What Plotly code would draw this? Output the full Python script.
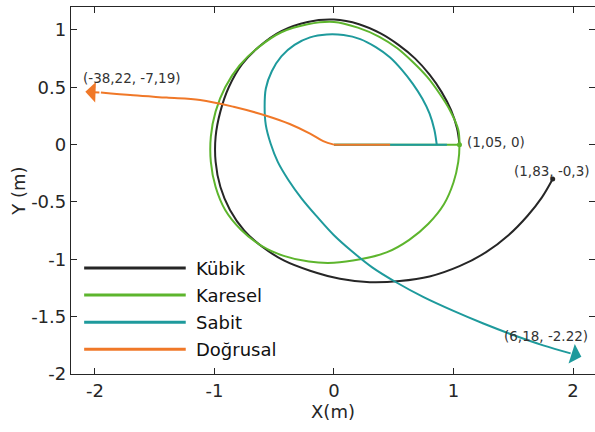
import plotly.graph_objects as go

# ---- data ----
series_names = ["Kübik", "Karesel", "Sabit", "Doğrusal"]
series_colors = ["#262626", "#5db52d", "#1e9a9c", "#f07828"]

kubik_x = [1.05, 1.03, 0.98, 0.90, 0.80, 0.68, 0.54, 0.39, 0.21, 0.00, -0.22, -0.44, -0.62, -0.77, -0.88,
           -0.95, -0.99, -0.99, -0.95, -0.87, -0.75, -0.60, -0.42, -0.20, 0.05, 0.30, 0.55, 0.80, 1.05,
           1.27, 1.46, 1.62, 1.74, 1.83]
kubik_y = [0.00, 0.14, 0.30, 0.46, 0.61, 0.75, 0.87, 0.97, 1.05, 1.09, 1.07, 0.99, 0.86, 0.70, 0.50,
           0.29, 0.07, -0.15, -0.37, -0.57, -0.75, -0.89, -1.01, -1.10, -1.17, -1.20, -1.19, -1.15, -1.06,
           -0.94, -0.79, -0.62, -0.46, -0.30]

karesel_x = [0.00, 1.05, None, 1.05, 1.04, 0.97, 0.88, 0.78, 0.66, 0.53, 0.38, 0.20, 0.00, -0.22, -0.44, -0.63,
             -0.79, -0.91, -0.99, -1.03, -1.03, -0.99, -0.91, -0.78, -0.61, -0.42, -0.21, 0.00, 0.22, 0.44,
             0.63, 0.79, 0.92, 1.00, 1.04, 1.05]
karesel_y = [0.00, 0.00, None, 0.00, 0.13, 0.30, 0.45, 0.59, 0.72, 0.84, 0.94, 1.02, 1.07, 1.05, 0.98, 0.85,
             0.69, 0.50, 0.29, 0.07, -0.15, -0.37, -0.57, -0.74, -0.88, -0.97, -1.02, -1.03, -1.00, -0.94,
             -0.83, -0.69, -0.52, -0.33, -0.15, 0.00]

sabit_x = [0.00, 0.945, None, 0.86, 0.84, 0.80, 0.74, 0.66, 0.57, 0.47, 0.35, 0.22, 0.08, -0.06, -0.20, -0.33,
           -0.44, -0.52, -0.57, -0.58, -0.57, -0.53, -0.47, -0.38, -0.27, -0.14, 0.00, 0.15, 0.32, 0.52,
           0.75, 1.00, 1.25, 1.50, 1.75, 1.98]
sabit_y = [0.00, 0.00, None, 0.00, 0.13, 0.27, 0.40, 0.53, 0.65, 0.76, 0.85, 0.92, 0.955, 0.96, 0.935, 0.87,
           0.77, 0.64, 0.49, 0.33, 0.17, 0.01, -0.15, -0.31, -0.47, -0.63, -0.79, -0.93, -1.07, -1.20,
           -1.33, -1.45, -1.56, -1.66, -1.75, -1.82]

dogrusal_x = [0.47, 0.00, None, 0.00, -0.09, -0.20, -0.37, -0.56, -0.84, -1.12, -1.40, -1.68, -1.95]
dogrusal_y = [0.00, 0.00, None, 0.00, 0.03, 0.096, 0.18, 0.25, 0.33, 0.39, 0.41, 0.43, 0.455]

# arrow tips and endpoint labels
sabit_tip = (2.07, -1.85)
dogrusal_tip = (-2.08, 0.46)
kubik_end = (1.83, -0.30)
karesel_start = (1.05, 0.0)
label_texts = ["(-38,22, -7,19)", "(1,05, 0)", "(1,83, -0,3)", "(6,18, -2.22)"]
label_x = [-2.115, 1.095, 1.49, 1.41]
label_y = [0.58, 0.02, -0.23, -1.67]

xs = [kubik_x, karesel_x, sabit_x, dogrusal_x]
ys = [kubik_y, karesel_y, sabit_y, dogrusal_y]

FONT = "DejaVu Sans"
TXT = "#262626"

fig = go.Figure()
for name, col, x, y in zip(series_names, series_colors, xs, ys):
    fig.add_trace(go.Scatter(x=x, y=y, mode="lines", name=name,
                             line=dict(color=col, width=2, shape="spline", smoothing=1.0),
                             connectgaps=False, showlegend=False, hoverinfo="skip"))

# endpoint markers
fig.add_trace(go.Scatter(x=[kubik_end[0]], y=[kubik_end[1]], mode="markers",
                         marker=dict(color=series_colors[0], size=5), showlegend=False))
fig.add_trace(go.Scatter(x=[karesel_start[0]], y=[karesel_start[1]], mode="markers",
                         marker=dict(color=series_colors[1], size=5), showlegend=False))

annotations = []
# arrowheads
for tip, tail, col in [(sabit_tip, (sabit_x[-1], sabit_y[-1]), series_colors[2]),
                       (dogrusal_tip, (dogrusal_x[-1], dogrusal_y[-1]), series_colors[3])]:
    annotations.append(dict(x=tip[0], y=tip[1], ax=tail[0], ay=tail[1], xref="x", yref="y",
                            axref="x", ayref="y", text="", showarrow=True, arrowhead=1,
                            arrowsize=1.7, arrowwidth=2, arrowcolor=col, standoff=0))
# point labels
for t, lx, ly in zip(label_texts, label_x, label_y):
    annotations.append(dict(x=lx, y=ly, xref="x", yref="y", text=t, showarrow=False,
                            xanchor="left", yanchor="middle",
                            font=dict(family=FONT, size=13.5, color="#333333")))

# manual legend (long lines like the reference)
leg_y = [-1.076, -1.312, -1.549, -1.785]
shapes = []
for name, col, ly in zip(series_names, series_colors, leg_y):
    shapes.append(dict(type="line", xref="x", yref="y", x0=-2.09, x1=-1.24, y0=ly, y1=ly,
                       line=dict(color=col, width=3)))
    annotations.append(dict(x=-1.175, y=ly, xref="x", yref="y", text=name, showarrow=False,
                            xanchor="left", yanchor="middle",
                            font=dict(family=FONT, size=18, color="#111111")))

axis_common = dict(showline=True, linecolor=TXT, linewidth=1.3, mirror="allticks",
                   ticks="inside", ticklen=6, tickcolor=TXT, showgrid=False, zeroline=False,
                   automargin=False,
                   tickfont=dict(family=FONT, size=18, color=TXT))

fig.update_layout(
    width=595, height=432,
    margin=dict(l=71, r=0, t=7, b=58),
    paper_bgcolor="white", plot_bgcolor="white",
    xaxis=dict(range=[-2.2, 2.184], tickvals=[-2, -1, 0, 1, 2], ticktext=["-2", "-1", "0", "1", "2"],
               title=dict(text="X(m)", standoff=0, font=dict(family=FONT, size=18, color=TXT)),
               **axis_common),
    yaxis=dict(range=[-2, 1.2], tickvals=[-2, -1.5, -1, -0.5, 0, 0.5, 1],
               ticktext=["-2", "-1.5", "-1", "-0.5", "0", "0.5", "1"],
               title=dict(text="Y (m)", standoff=0, font=dict(family=FONT, size=18, color=TXT)),
               **axis_common),
    shapes=shapes, annotations=annotations, showlegend=False,
)

fig.write_html("out.html", config={"displayModeBar": False},
               post_script="document.body.style.margin='0';document.body.style.padding='0';")
